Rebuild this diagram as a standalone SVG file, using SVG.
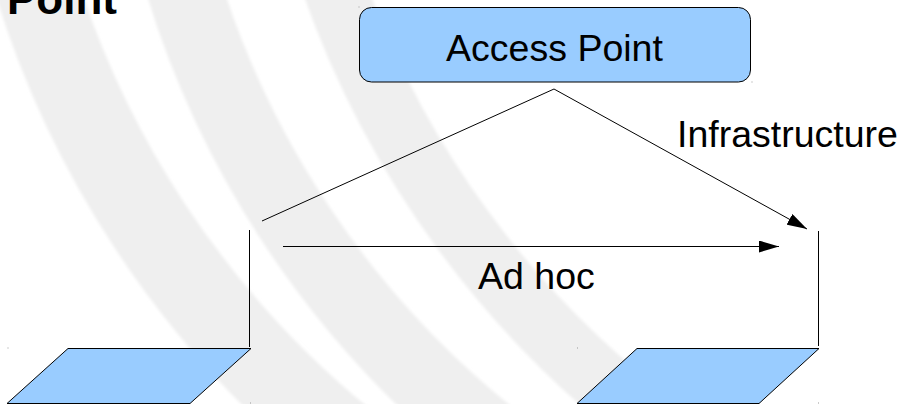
<svg xmlns="http://www.w3.org/2000/svg" width="906" height="404" viewBox="0 0 906 404">
  <defs>
    <style>
      .band { fill: none; stroke: #efefef; }
      .shape { fill: #99ccff; stroke: #000; stroke-width: 1; }
      .line { fill: none; stroke: #000; stroke-width: 1; }
      .lbl { font-family: "Liberation Sans", Arial, sans-serif; font-size: 37.5px; fill: #000; }
      .title { font-family: "Liberation Sans", Arial, sans-serif; font-size: 44px; font-weight: bold; fill: #000; }
      .dot { fill: #9a9a9a; }
    </style>
    <filter id="soft" x="-10%" y="-10%" width="120%" height="120%">
      <feGaussianBlur stdDeviation="1.8"/>
    </filter>
    <marker id="arrow" markerUnits="userSpaceOnUse" markerWidth="20" markerHeight="12" refX="20" refY="6" orient="auto">
      <path d="M0,0 L20,6 L0,12 z" fill="#000"/>
    </marker>
  </defs>

  <rect x="0" y="0" width="906" height="404" fill="#fff"/>

  <g id="background" filter="url(#soft)">
    <path class="band" stroke-width="83" d="M25.8,-50 A954,954 0 0 0 354.9,450"/>
    <path class="band" stroke-width="75" d="M173,-50 A930,930 0 0 0 506.1,450"/>
    <path class="band" stroke-width="63" d="M321.8,-50 A951,951 0 0 0 688.8,450"/>
  </g>

  <text class="title" x="7" y="14">Point</text>

  <g id="connectors">
    <polyline class="line" points="262,221 554,89 807,229" marker-end="url(#arrow)"/>
    <line class="line" x1="283" y1="246.5" x2="779" y2="246.5" marker-end="url(#arrow)"/>
    <text class="lbl" x="677" y="146.7">Infrastructure</text>
    <text class="lbl" x="478" y="289.3">Ad hoc</text>
  </g>

  <g id="access-point">
    <rect class="shape" x="359.5" y="7.5" width="391" height="74.5" rx="12" ry="12" stroke="#333"/>
    <text class="lbl" x="554.5" y="60.5" text-anchor="middle">Access Point</text>
  </g>

  <g id="laptop-left">
    <line class="line" x1="249.5" y1="230" x2="249.5" y2="347"/>
    <polygon class="shape" points="68,348.5 251,348.5 190,403.5 7,403.5"/>
  </g>

  <g id="laptop-right">
    <line class="line" x1="818.5" y1="231" x2="818.5" y2="346"/>
    <polygon class="shape" points="637,348.5 819,348.5 759,403.5 577,403.5"/>
  </g>

  <g id="markers">
    <rect class="dot" x="7.5" y="347.5" width="1" height="1"/>
    <rect class="dot" x="250" y="402.5" width="1" height="1"/>
    <rect class="dot" x="577" y="347.5" width="1" height="1"/>
    <rect class="dot" x="818" y="402.5" width="1" height="1"/>
    <rect class="dot" x="358.5" y="6.5" width="1" height="1"/>
    <rect class="dot" x="751.5" y="81.5" width="1" height="1"/>
  </g>
</svg>
